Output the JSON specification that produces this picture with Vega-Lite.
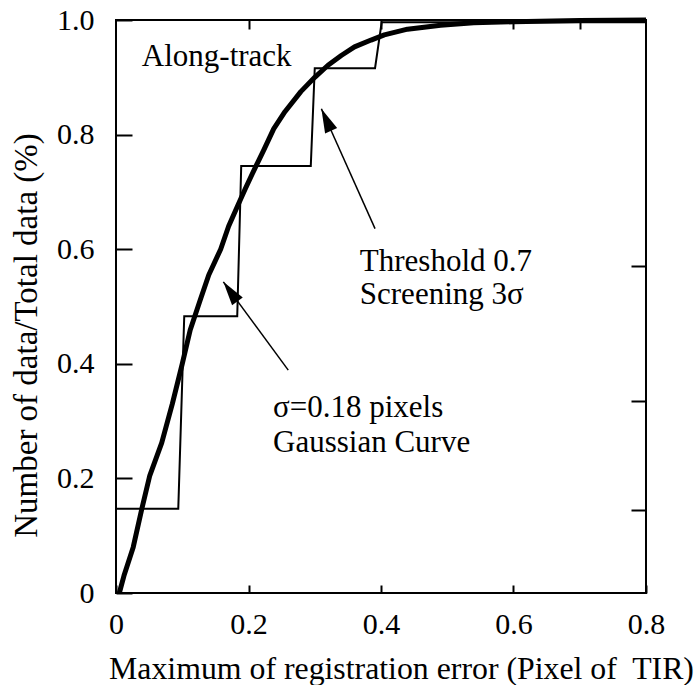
{
  "$schema": "https://vega.github.io/schema/vega-lite/v6.json",
  "width": 530,
  "height": 573,
  "autosize": {"type": "none"},
  "padding": {"left": 116, "top": 20, "right": 53, "bottom": 92},
  "background": "white",
  "config": {
    "view": {"stroke": "black", "strokeWidth": 2},
    "font": "Liberation Serif",
    "axis": {"grid": false, "domain": false, "tickColor": "black", "tickWidth": 2, "labelColor": "black", "titleColor": "black", "labelFont": "Liberation Serif", "titleFont": "Liberation Serif", "titleFontWeight": "normal"}
  },
  "datasets": {
    "steps": [
      {"i": 0, "x": 0, "y": 0},
      {"i": 1, "x": 0, "y": 0.147},
      {"i": 2, "x": 0.094, "y": 0.147},
      {"i": 3, "x": 0.103, "y": 0.483},
      {"i": 4, "x": 0.183, "y": 0.483},
      {"i": 5, "x": 0.189, "y": 0.745},
      {"i": 6, "x": 0.294, "y": 0.745},
      {"i": 7, "x": 0.3, "y": 0.916},
      {"i": 8, "x": 0.391, "y": 0.916},
      {"i": 9, "x": 0.401, "y": 0.996},
      {"i": 10, "x": 0.8, "y": 0.996}
    ],
    "curve": [
      {"x": 0.005, "y": 0},
      {"x": 0.012, "y": 0.03},
      {"x": 0.026, "y": 0.08},
      {"x": 0.039, "y": 0.147},
      {"x": 0.051, "y": 0.205},
      {"x": 0.069, "y": 0.262},
      {"x": 0.085, "y": 0.33},
      {"x": 0.1, "y": 0.4},
      {"x": 0.112, "y": 0.459},
      {"x": 0.127, "y": 0.511},
      {"x": 0.14, "y": 0.555},
      {"x": 0.158, "y": 0.6},
      {"x": 0.17, "y": 0.64},
      {"x": 0.183, "y": 0.674},
      {"x": 0.195, "y": 0.705},
      {"x": 0.21, "y": 0.742},
      {"x": 0.223, "y": 0.773},
      {"x": 0.238, "y": 0.81},
      {"x": 0.255, "y": 0.84},
      {"x": 0.279, "y": 0.875},
      {"x": 0.3, "y": 0.9},
      {"x": 0.32, "y": 0.921},
      {"x": 0.34, "y": 0.938},
      {"x": 0.36, "y": 0.953},
      {"x": 0.385, "y": 0.965},
      {"x": 0.405, "y": 0.974},
      {"x": 0.44, "y": 0.984},
      {"x": 0.49, "y": 0.991},
      {"x": 0.54, "y": 0.995},
      {"x": 0.6, "y": 0.997},
      {"x": 0.7, "y": 0.999},
      {"x": 0.8, "y": 1.0}
    ],
    "arrows": [
      {"name": "threshold", "x1": 0.391, "y1": 0.636, "x2": 0.31, "y2": 0.845},
      {"name": "sigma", "x1": 0.26, "y1": 0.389, "x2": 0.162, "y2": 0.543}
    ],
    "notes": [
      {"x": 0.039, "y": 0.935, "text": "Along-track"},
      {"x": 0.368, "y": 0.578, "text": "Threshold 0.7"},
      {"x": 0.368, "y": 0.52, "text": "Screening 3σ"},
      {"x": 0.237, "y": 0.323, "text": "σ=0.18 pixels"},
      {"x": 0.237, "y": 0.262, "text": "Gaussian Curve"}
    ]
  },
  "layer": [
    {
      "data": {"name": "steps"},
      "mark": {"type": "line", "color": "black", "strokeWidth": 2},
      "encoding": {
        "x": {
          "field": "x", "type": "quantitative",
          "scale": {"domain": [0, 0.8], "nice": false, "zero": false},
          "axis": {
            "orient": "bottom", "values": [0, 0.2, 0.4, 0.6, 0.8], "tickSize": -8,
            "labelFontSize": 30, "labelPadding": 24, "labelDx": 7,
            "labelExpr": "datum.value == 0 ? '0' : format(datum.value, '.1f')",
            "labelFlush": false, "labelOverlap": false,
            "title": "Maximum of registration error (Pixel of\u00a0 TIR)",
            "titleFontSize": 31.8, "titleX": 285, "titleY": 85, "titleAlign": "center", "titleAnchor": null, "titleBaseline": "alphabetic"
          }
        },
        "y": {
          "field": "y", "type": "quantitative",
          "scale": {"domain": [0, 1], "nice": false, "zero": false},
          "axis": {
            "orient": "left", "values": [0, 0.2, 0.4, 0.6, 0.8, 1.0], "tickSize": -16,
            "labelFontSize": 30, "labelPadding": 38,
            "labelExpr": "datum.value == 0 ? '0' : format(datum.value, '.1f')",
            "labelFlush": false, "labelOverlap": false,
            "title": "Number of data/Total data (%)",
            "titleFontSize": 33, "titleAngle": -90, "titleX": -90, "titleY": 315, "titleAlign": "center", "titleBaseline": "middle"
          }
        },
        "order": {"field": "i", "type": "quantitative"}
      }
    },
    {
      "data": {"name": "curve"},
      "mark": {"type": "line", "color": "black", "strokeWidth": 5, "strokeJoin": "round"},
      "encoding": {
        "x": {
          "field": "x", "type": "quantitative",
          "axis": {"orient": "top", "values": [0.2, 0.4, 0.6, 0.7], "tickSize": -9, "labels": false, "title": null}
        },
        "y": {
          "field": "y", "type": "quantitative",
          "axis": {"orient": "right", "values": [0.145, 0.335, 0.57], "tickSize": -15, "labels": false, "title": null}
        }
      }
    },
    {
      "data": {"name": "arrows"},
      "mark": {"type": "rule", "color": "black", "strokeWidth": 1.5},
      "encoding": {
        "x": {"field": "x1", "type": "quantitative", "axis": null},
        "y": {"field": "y1", "type": "quantitative", "axis": null},
        "x2": {"field": "x2"},
        "y2": {"field": "y2"}
      }
    },
    {
      "data": {"name": "arrows"},
      "transform": [{"filter": "datum.name == 'threshold'"}],
      "mark": {"type": "point", "shape": "M0,0L-0.55,2L0.55,2Z", "size": 576, "filled": true, "color": "black", "opacity": 1, "angle": 336},
      "encoding": {
        "x": {"field": "x2", "type": "quantitative", "axis": null},
        "y": {"field": "y2", "type": "quantitative", "axis": null}
      }
    },
    {
      "data": {"name": "arrows"},
      "transform": [{"filter": "datum.name == 'sigma'"}],
      "mark": {"type": "point", "shape": "M0,0L-0.55,2L0.55,2Z", "size": 576, "filled": true, "color": "black", "opacity": 1, "angle": 324},
      "encoding": {
        "x": {"field": "x2", "type": "quantitative", "axis": null},
        "y": {"field": "y2", "type": "quantitative", "axis": null}
      }
    },
    {
      "data": {"name": "notes"},
      "mark": {"type": "text", "align": "left", "baseline": "middle", "fontSize": 31, "font": "Liberation Serif", "color": "black"},
      "encoding": {
        "x": {"field": "x", "type": "quantitative", "axis": null},
        "y": {"field": "y", "type": "quantitative", "axis": null},
        "text": {"field": "text"}
      }
    }
  ],
  "resolve": {"axis": {"x": "independent", "y": "independent"}}
}
